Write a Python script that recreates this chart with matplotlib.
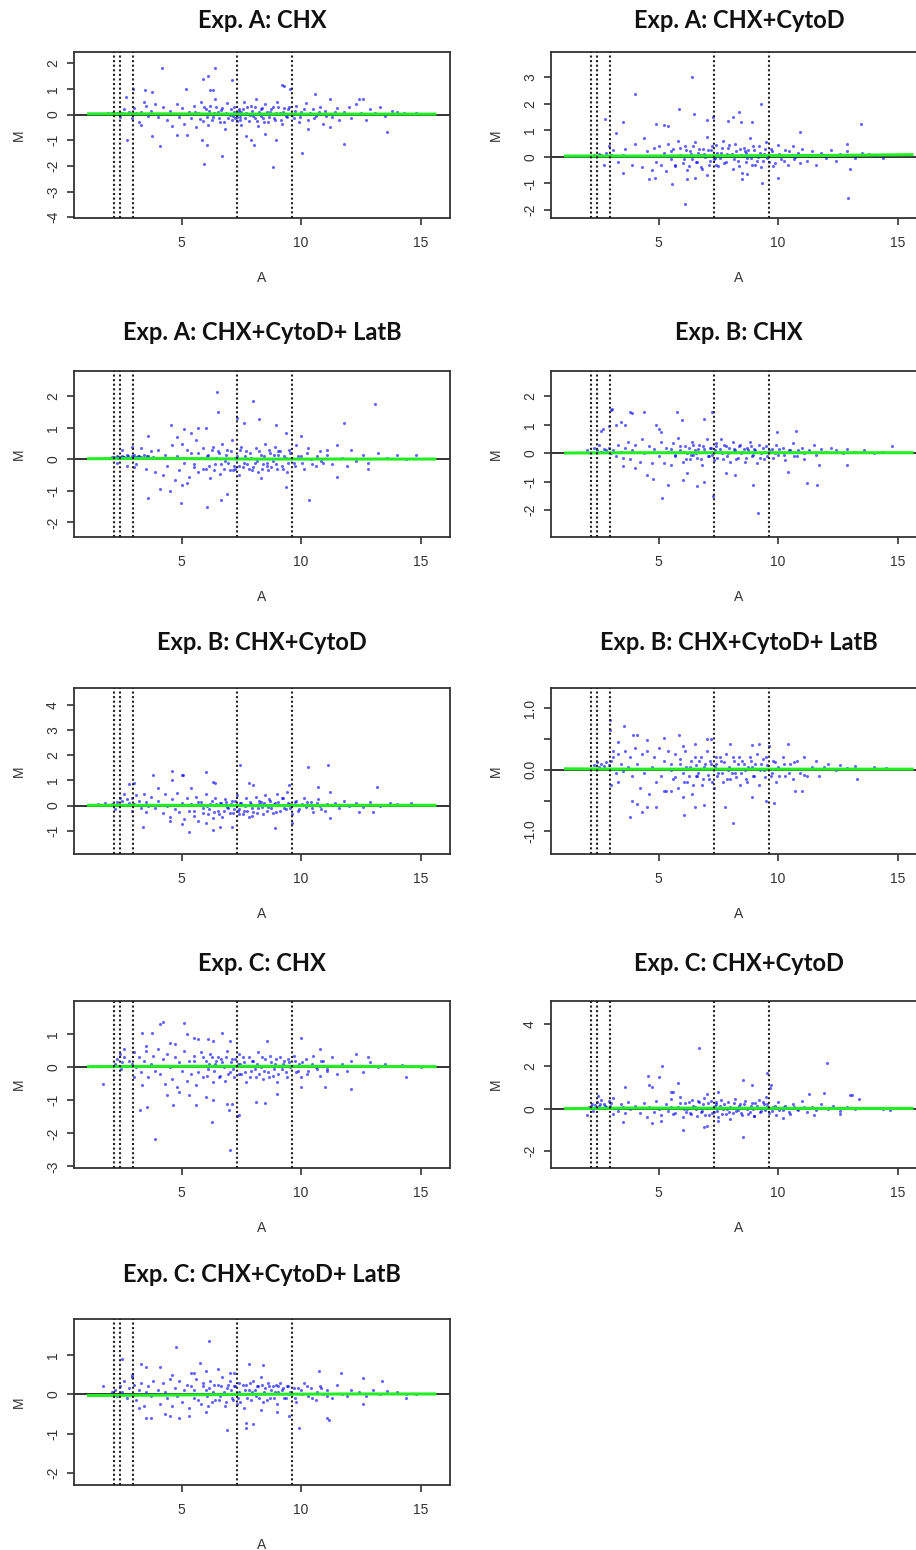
import matplotlib
matplotlib.use("Agg")
import matplotlib.pyplot as plt

# panel titles, left/right column, top to bottom
titles = ["Exp. A: CHX", "Exp. A: CHX+CytoD", "Exp. A: CHX+CytoD+ LatB", "Exp. B: CHX",
          "Exp. B: CHX+CytoD", "Exp. B: CHX+CytoD+ LatB", "Exp. C: CHX", "Exp. C: CHX+CytoD",
          "Exp. C: CHX+CytoD+ LatB"]

ylims = [(-4.03, 2.44), (-2.3, 3.94), (-2.46, 2.8), (-2.94, 2.89), (-1.92, 4.66),
         (-1.37, 1.33), (-3.05, 2.01), (-2.81, 5.1), (-2.31, 1.92)]
yticks = [[-4, -3, -2, -1, 0, 1, 2], [-2, -1, 0, 1, 2, 3], [-2, -1, 0, 1, 2], [-2, -1, 0, 1, 2],
          [-1, 0, 1, 2, 3, 4], [-1.0, -0.5, 0.0, 0.5, 1.0], [-3, -2, -1, 0, 1], [-2, 0, 2, 4],
          [-2, -1, 0, 1]]
ylabels6 = ["-1.0", "", "0.0", "", "1.0"]
xticks = [5, 10, 15]

# intensity cut points (dotted lines)
cuts = [2.18, 2.42, 2.95, 7.3, 9.63]

# loess fit (green)
loess_A = [1.1, 4.0, 8.0, 12.0, 15.6]
loess_M = [[0.03, 0.03, 0.02, 0.02, 0.02], [0.03, 0.03, 0.04, 0.05, 0.08],
           [0.02, 0.03, 0.01, 0.01, 0.01], [0.01, 0.02, 0.02, 0.02, 0.02],
           [0.01, 0.01, 0.0, 0.01, 0.01], [0.015, 0.01, 0.01, 0.01, 0.01],
           [0.02, 0.03, 0.03, 0.03, 0.02], [0.0, 0.03, 0.02, 0.01, 0.01],
           [-0.03, -0.02, 0.0, 0.01, 0.01]]

# (A, M) points
pts_a_chx = [(1.3,0.03),(1.6,0.04),(1.9,0.05),(2.1,0.05),(2.3,0.07),(2.5,0.06),(2.6,0.2),(2.8,0.1),(3.0,0.25),(3.1,0.05),
    (3.2,-0.3),(3.3,0.1),(3.5,0.35),(3.6,-0.05),(3.7,0.15),(3.9,0.4),(2.4,-0.1),(2.9,-0.15),(3.4,0.5),(4.0,-0.1),(2.67,0.7),(3.3,-0.4),
    (4.2,0.3),(4.4,-0.2),(4.5,0.15),(4.6,-0.45),(4.8,0.4),(4.9,-0.1),(5.0,0.25),(5.1,-0.35),(5.3,0.1),(5.4,-0.15),(5.5,0.35),(5.6,-0.5),
    (5.7,0.05),(5.8,0.5),(5.9,-0.25),(6.0,0.2),(6.1,-0.4),(6.2,0.35),(6.3,-0.1),(6.4,0.6),(6.5,0.1),(6.6,-0.3),(6.7,0.25),(6.8,-0.55),
    (6.9,0.45),(7.0,0.0),(7.1,-0.2),(7.2,0.3),(7.3,-0.1),(7.4,0.15),(7.5,-0.4),(7.6,0.5),(7.7,0.05),(7.8,-0.25),(7.9,0.35),(8.0,-0.05),
    (8.1,0.6),(8.2,-0.45),(8.3,0.2),(8.4,-0.15),(8.5,0.4),(8.6,-0.3),(8.7,0.1),(8.8,0.3),(8.9,-0.2),(9.0,0.5),(9.1,0.05),(9.2,-0.35),
    (9.3,0.25),(9.4,-0.1),(9.5,0.3),(7.25,-0.15),(7.35,0.05),(7.45,-0.2),(8.05,-0.15),(8.25,0.1),(6.95,-0.15),(7.55,0.2),
    (9.7,-0.15),(9.8,0.35),(9.9,-0.3),(10.0,0.1),(10.2,0.45),(10.3,-0.2),(10.5,0.2),(10.6,-0.05),(10.8,0.3),(10.9,-0.35),(11.0,0.15),
    (11.2,0.6),(11.3,-0.1),(11.5,0.25),(11.6,-0.2),(11.8,0.1),(12.0,0.3),(12.1,-0.15),(12.3,0.4),(12.5,0.05),(12.7,-0.2),(12.9,0.2),
    (13.1,0.05),(13.3,0.3),(13.5,-0.05),(13.8,0.15),(14.0,0.1),(14.3,0.05),(14.8,0.05),(12.6,0.6),
    (4.16,1.83),(6.39,1.83),(5.9,1.4),(6.12,1.51),(7.09,1.35),(9.2,1.15),(9.3,1.1),(9.53,1.0),(6.2,0.95),(6.3,0.95),(5.18,1.0),
    (3.47,0.95),(2.98,1.0),(3.74,0.9),(10.58,0.82),(12.4,0.6),(4.09,-1.21),(5.93,-1.94),(6.67,-1.6),(8.81,-2.04),(10.02,-1.49),
    (11.79,-1.13),(13.58,-0.69),(8.03,-1.2),(7.9,-1.0),(6.07,-1.17),(5.84,-1.0),(2.7,-1.0),(3.74,-0.85),(8.93,-1.0),(4.8,-0.8),
    (5.2,-0.8),(7.7,-0.85),(8.5,-0.75),(10.3,-0.55),(11.2,-0.5)]
dense_a_chx = [(5.55,0.12),(5.75,-0.18),(5.95,0.28),(6.05,-0.08),(6.15,0.15),(6.25,-0.22),(6.35,0.05),(6.45,0.3),(6.55,-0.12),
    (6.65,0.18),(6.75,-0.3),(6.85,0.08),(7.05,0.22),(7.15,-0.05),(7.2,0.12),(7.3,-0.25),(7.38,0.2),(7.42,-0.08),(7.5,0.1),(7.65,-0.12),
    (7.75,0.28),(7.85,-0.02),(7.95,0.15),(8.05,0.3),(8.15,-0.25),(8.3,-0.05),(8.35,0.25),(8.45,-0.3),(8.55,0.12),(8.65,-0.08),(8.75,0.2),
    (8.85,-0.15),(8.95,0.05),(9.05,0.28),(9.15,-0.2),(9.25,0.1),(9.35,-0.05),(9.45,0.2),(9.6,0.0),(9.75,0.15),(9.95,-0.1),(10.1,0.2),
    (10.35,0.05),(10.55,-0.15),(10.75,0.1),(11.05,-0.05),(11.4,0.1)]

pts_a_cytod = [(1.2,0.03),(1.5,0.03),(1.8,0.04),(2.1,0.04),(2.3,0.06),(2.5,0.1),(2.6,0.05),(2.8,0.15),(3.0,0.08),(3.2,0.02),
    (3.5,0.05),(3.8,0.04),(4.2,0.03),(4.6,0.04),(5.0,0.03),(5.4,0.04),(2.7,-0.3),(2.9,0.4),(3.1,0.25),(3.3,-0.2),(3.6,0.3),(3.9,-0.3),
    (4.0,0.5),(4.3,-0.4),(4.4,0.7),(4.5,0.2),(4.7,-0.5),(4.8,0.35),(4.9,-0.2),
    (5.0,0.4),(5.1,-0.3),(5.2,0.15),(5.3,-0.55),(5.4,0.5),(5.5,-0.1),(5.6,0.3),(5.7,-0.35),(5.8,0.6),(5.9,0.05),(6.0,-0.25),(6.1,0.4),
    (6.2,-0.5),(6.3,0.2),(6.4,-0.1),(6.5,0.55),(6.6,-0.2),(6.7,0.3),(6.8,-0.45),(6.9,0.1),(7.0,0.75),(7.1,-0.3),(7.2,0.25),(7.3,-0.1),
    (7.4,0.45),(7.5,-0.35),(7.6,0.15),(7.7,0.6),(7.8,-0.2),(7.9,0.35),(8.0,0.05),(8.1,-0.45),(8.2,0.5),(8.3,-0.15),(8.4,0.3),(8.5,-0.6),
    (8.6,0.2),(8.7,-0.05),(8.8,0.7),(8.9,-0.3),(9.0,0.25),(9.1,-0.15),(9.2,0.4),(9.3,-0.4),(9.4,0.1),(9.5,0.55),(9.6,-0.2),(9.7,0.3),
    (9.8,-0.35),(9.9,0.05),(10.0,0.45),(10.1,-0.1),(10.3,0.25),(10.4,-0.3),(10.6,0.4),(10.7,0.0),(10.9,-0.25),(11.0,0.3),(11.2,-0.15),
    (11.4,0.2),(11.6,-0.3),(11.8,0.15),(12.0,-0.05),(12.2,0.25),(12.4,-0.15),(12.6,0.1),(12.9,0.2),(13.2,-0.05),(13.5,0.15),(13.8,0.1),
    (14.1,0.05),(14.4,-0.05),(8.05,0.1),(7.35,-0.05),(6.75,0.05),(8.65,0.15),(9.15,0.0),
    (6.38,3.0),(4.01,2.37),(5.86,1.79),(6.49,1.6),(9.28,1.97),(8.38,1.7),(7.29,1.5),(7.0,1.4),(7.9,1.35),(8.1,1.5),(8.9,1.3),
    (8.44,1.31),(2.73,1.44),(3.52,1.29),(4.9,1.25),(5.2,1.2),(5.4,1.15),(13.47,1.22),(10.9,0.95),(3.2,0.9),(12.9,0.5),
    (6.1,-1.78),(12.94,-1.56),(9.31,-0.99),(5.56,-1.04),(4.6,-0.85),(4.85,-0.8),(6.2,-0.85),(6.5,-0.8),(8.5,-0.85),(8.7,-0.65),
    (10.0,-0.8),(3.5,-0.6),(7.0,-0.7),(13.0,-0.45)]
dense_a_cytod = [(5.5,0.2),(5.7,-0.3),(5.9,0.35),(6.05,-0.1),(6.15,0.25),(6.25,-0.35),(6.35,0.1),(6.45,0.4),(6.55,-0.2),(6.65,0.15),
    (6.75,-0.4),(6.85,0.3),(6.95,0.0),(7.05,0.25),(7.15,-0.15),(7.25,0.4),(7.38,-0.3),(7.45,0.15),(7.55,-0.05),(7.65,0.35),(7.75,-0.25),
    (7.85,0.1),(7.95,0.45),(8.15,-0.1),(8.25,0.2),(8.35,-0.35),(8.45,0.05),(8.55,0.35),(8.65,-0.2),(8.75,0.25),(8.85,-0.05),(8.95,0.4),
    (9.05,-0.3),(9.25,0.15),(9.35,-0.15),(9.45,0.3),(9.55,-0.05),(9.75,0.2),(9.85,-0.25),(10.05,0.1),(10.25,-0.15),(10.45,0.2),
    (10.65,-0.1),(10.85,0.15),(11.1,0.05)]

pts_a_latb = [(1.8,0.03),(2.0,0.05),(2.1,0.08),(2.2,0.04),(2.3,0.1),(2.4,0.06),(2.5,0.12),(2.6,0.08),(2.7,0.15),(2.8,0.05),
    (2.9,0.1),(3.0,0.14),(3.1,0.06),(3.2,0.12),(3.3,0.08),(3.4,0.15),(3.5,0.05),(3.6,0.1),(3.7,0.03),(3.8,0.08),(2.5,0.3),(2.7,-0.2),
    (2.9,0.4),(3.1,-0.15),(3.3,0.35),(3.5,-0.3),(3.7,0.25),(3.9,-0.4),(2.3,-0.1),(3.0,-0.25),
    (4.0,0.3),(4.2,-0.5),(4.3,0.15),(4.4,-0.2),(4.6,0.45),(4.7,-0.65),(4.8,0.1),(4.9,-0.35),(5.0,0.5),(5.1,-0.1),(5.2,0.3),(5.3,-0.55),
    (5.4,0.2),(5.5,-0.25),(5.6,0.6),(5.7,-0.4),(5.8,0.05),(5.9,0.35),(6.0,-0.3),(6.1,0.15),(6.2,-0.6),(6.3,0.4),(6.4,-0.15),(6.5,0.25),
    (6.6,-0.45),(6.7,0.5),(6.8,-0.05),(6.9,0.3),(7.0,-0.35),(7.1,0.6),(7.2,-0.2),(7.3,0.1),(7.4,-0.5),(7.5,0.4),(7.6,-0.1),(7.7,0.25),
    (7.8,-0.3),(7.9,0.05),(8.0,-0.25),(8.1,0.35),(8.2,-0.4),(8.3,0.15),(8.4,-0.15),(8.5,0.5),(8.6,-0.35),(8.7,0.2),(8.8,-0.05),(8.9,0.4),
    (9.0,-0.3),(9.1,0.25),(9.2,-0.2),(9.3,0.1),(9.4,-0.4),(9.5,0.3),(9.7,-0.1),(9.8,0.45),(10.0,0.1),(10.1,-0.3),(10.3,0.35),(10.4,0.0),
    (10.6,-0.2),(10.8,0.25),(10.9,-0.1),(11.1,0.3),(11.3,-0.15),(11.5,0.45),(11.7,0.05),(11.9,-0.2),(12.1,0.3),(12.3,-0.05),(12.6,0.15),
    (12.8,-0.1),(13.2,0.2),(13.6,0.05),(14.0,0.15),(14.4,0.0),(14.8,0.15),(7.25,-0.3),(8.05,-0.1),(8.55,-0.2),(9.05,0.15),
    (6.49,2.13),(6.5,1.5),(7.97,1.86),(13.09,1.77),(7.33,1.32),(7.6,1.15),(8.25,1.27),(8.95,1.1),(11.8,1.15),(4.55,1.1),(5.1,0.95),
    (5.4,0.85),(5.7,1.0),(6.0,1.0),(9.35,0.85),(10.0,0.75),(3.6,0.75),(4.8,0.7),(6.07,-1.51),(10.34,-1.29),(6.63,-1.28),(6.9,-1.1),
    (4.97,-1.37),(3.58,-1.24),(4.51,-1.01),(4.1,-0.95),(5.0,-0.8),(5.2,-0.75),(9.37,-0.87),(8.3,-0.6),(11.5,-0.55),(12.8,-0.3)]
dense_a_latb = [(5.5,-0.15),(5.7,0.2),(5.9,-0.3),(6.05,0.1),(6.15,-0.2),(6.25,0.3),(6.35,-0.35),(6.45,0.05),(6.55,0.2),(6.65,-0.15),
    (6.75,-0.3),(6.85,0.15),(6.95,-0.1),(7.05,0.25),(7.15,-0.35),(7.25,0.05),(7.38,-0.2),(7.45,0.3),(7.55,-0.25),(7.65,0.1),(7.75,-0.15),
    (7.85,0.2),(7.95,-0.35),(8.15,-0.05),(8.25,0.25),(8.35,-0.3),(8.45,0.1),(8.55,-0.1),(8.65,0.3),(8.75,-0.25),(8.85,0.15),(8.95,-0.15),
    (9.05,0.25),(9.25,-0.3),(9.35,0.05),(9.45,-0.1),(9.55,0.2),(9.75,-0.2),(9.85,0.1),(10.05,-0.1),(10.25,0.2),(10.45,-0.15),
    (10.65,0.1),(10.85,-0.05),(11.1,0.15),(2.15,0.06),(2.35,0.09),(2.55,0.07),(2.75,0.1),(2.95,0.06),(3.15,0.11),(3.35,0.05),(3.55,0.12)]

pts_b_chx = [(2.0,0.12),(2.3,0.2),(2.4,0.1),(2.5,0.3),(2.6,0.05),(2.7,0.15),(2.8,0.1),(2.9,0.2),(3.0,0.0),(3.1,0.1),(3.2,-0.1),
    (3.3,0.3),(3.4,0.05),(3.5,-0.15),(3.6,0.2),(3.7,0.4),(3.8,-0.2),(3.9,0.1),(4.0,0.3),(4.2,-0.3),(4.3,0.5),(4.4,0.0),(4.6,0.25),
    (4.7,-0.35),(4.8,0.15),
    (5.0,-0.1),(5.1,0.4),(5.2,-0.35),(5.3,0.2),(5.4,0.05),(5.5,-0.4),(5.6,0.35),(5.7,-0.05),(5.8,0.55),(5.9,0.1),(6.0,-0.3),(6.1,0.25),
    (6.2,0.0),(6.3,-0.2),(6.4,0.4),(6.5,0.1),(6.6,-0.15),(6.7,0.3),(6.8,-0.4),(6.9,0.15),(7.0,0.5),(7.1,-0.1),(7.2,0.2),(7.3,-0.25),
    (7.4,0.35),(7.5,0.05),(7.6,0.5),(7.7,-0.2),(7.8,0.25),(7.9,0.0),(8.0,-0.3),(8.1,0.4),(8.2,0.1),(8.3,-0.15),(8.4,0.3),(8.5,0.05),
    (8.6,-0.3),(8.7,0.2),(8.8,0.4),(8.9,-0.1),(9.0,0.15),(9.1,-0.35),(9.2,0.3),(9.3,0.0),(9.4,-0.2),(9.5,0.25),(9.7,0.05),(9.8,-0.15),
    (9.9,0.3),(10.0,-0.05),(10.2,0.2),(10.3,-0.25),(10.5,0.1),(10.6,0.35),(10.8,-0.1),(11.0,0.2),(11.1,-0.2),(11.3,0.1),(11.5,0.3),
    (11.6,-0.05),(11.8,0.15),(12.0,0.05),(12.2,0.2),(12.4,0.1),(12.7,0.0),(12.9,0.15),(13.2,0.05),(13.6,0.1),(14.0,0.02),(14.4,0.05),
    (7.35,0.1),(6.45,-0.05),(8.15,0.15),(9.6,0.1),
    (2.99,1.51),(3.05,1.55),(3.8,1.45),(3.9,1.4),(4.4,1.45),(5.75,1.45),(7.25,1.45),(5.96,1.16),(6.9,1.2),(3.4,1.1),(3.2,1.0),
    (3.6,1.0),(2.9,0.95),(2.6,0.8),(2.65,0.85),(4.9,1.0),(5.0,0.85),(5.1,0.75),(10.73,0.79),(9.95,0.75),(14.75,0.25),
    (9.17,-2.09),(5.13,-1.57),(7.29,-1.51),(5.4,-1.13),(6.6,-1.15),(6.9,-1.0),(8.96,-1.1),(11.19,-1.05),(11.61,-1.1),(6.0,-0.95),
    (4.75,-0.9),(4.5,-0.75),(6.2,-0.7),(7.8,-0.7),(8.2,-0.75),(10.4,-0.65),(11.7,-0.4),(12.9,-0.4),(3.5,-0.45),(4.0,-0.5)]
dense_b_chx = [(5.5,0.15),(5.7,-0.1),(5.9,0.25),(6.05,0.05),(6.15,-0.2),(6.25,0.2),(6.35,-0.05),(6.45,0.3),(6.55,0.0),(6.65,0.15),
    (6.75,-0.2),(6.85,0.25),(6.95,0.05),(7.05,-0.1),(7.15,0.2),(7.25,-0.05),(7.38,0.25),(7.45,-0.15),(7.55,0.15),(7.65,0.0),(7.75,0.3),
    (7.85,-0.1),(7.95,0.2),(8.15,0.05),(8.25,-0.2),(8.35,0.25),(8.45,0.0),(8.55,0.15),(8.65,-0.15),(8.75,0.1),(8.85,0.25),(8.95,-0.05),
    (9.05,0.1),(9.25,-0.15),(9.35,0.2),(9.45,0.05),(9.55,-0.1),(9.75,0.15),(9.85,0.0),(10.05,0.15),(10.25,-0.05),(10.45,0.1),
    (10.65,-0.1),(10.85,0.1),(11.1,0.0)]

pts_b_cytod = [(1.5,0.08),(1.8,0.1),(2.1,0.05),(2.3,0.15),(2.4,0.3),(2.5,0.2),(2.6,0.45),(2.7,0.25),(2.8,0.1),(2.9,0.3),(3.0,0.05),
    (3.1,0.4),(3.2,0.2),(3.3,-0.1),(3.4,0.45),(3.5,0.15),(3.6,0.0),(3.7,0.35),(3.9,-0.1),(4.0,0.2),(2.2,-0.15),(2.9,-0.2),(3.5,-0.25),
    (4.2,-0.3),(4.3,0.45),(4.4,0.0),(4.5,-0.45),(4.6,0.25),(4.7,-0.15),(4.8,0.5),(4.9,-0.25),(5.0,0.1),(5.1,-0.55),(5.2,0.3),(5.3,-0.2),
    (5.4,0.05),(5.5,-0.4),(5.6,0.35),(5.7,-0.6),(5.8,0.15),(5.9,-0.1),(6.0,0.45),(6.1,-0.35),(6.2,0.05),(6.3,-0.5),(6.4,0.3),(6.5,-0.2),
    (6.6,0.1),(6.7,-0.45),(6.8,0.25),(6.9,-0.05),(7.0,-0.3),(7.1,0.2),(7.2,-0.15),(7.3,0.4),(7.4,-0.35),(7.5,0.1),(7.6,-0.2),(7.7,0.3),
    (7.8,-0.45),(7.9,0.05),(8.0,-0.25),(8.1,0.35),(8.2,-0.1),(8.3,0.15),(8.4,-0.35),(8.5,0.4),(8.6,-0.05),(8.7,0.2),(8.8,-0.3),(8.9,0.1),
    (9.0,0.45),(9.1,-0.2),(9.2,0.3),(9.3,-0.1),(9.4,0.55),(9.5,0.05),(9.6,-0.35),(9.8,0.2),(9.9,-0.15),(10.1,0.3),(10.2,-0.05),
    (10.4,0.15),(10.5,-0.25),(10.7,0.25),(10.8,0.0),(11.0,-0.2),(11.2,0.55),(11.4,0.1),(11.6,-0.1),(11.8,0.2),(12.0,0.0),(12.3,0.1),
    (12.6,-0.05),(12.9,0.15),(13.3,0.0),(13.7,0.1),(14.0,0.05),(14.6,0.1),(7.35,-0.2),(7.95,-0.4),(8.25,0.05),
    (7.44,1.59),(10.3,1.54),(11.11,1.6),(4.61,1.37),(6.0,1.32),(3.81,1.21),(5.0,1.2),(5.07,1.2),(4.6,1.0),(6.3,0.95),(6.4,0.9),
    (7.8,0.9),(8.0,0.8),(9.5,0.8),(10.7,0.75),(13.19,0.72),(2.8,0.85),(3.0,0.9),(5.4,0.7),(4.0,0.7),
    (5.32,-1.03),(3.37,-0.83),(6.3,-0.95),(6.6,-0.85),(7.1,-0.85),(8.9,-0.87),(9.6,-0.7),(5.0,-0.75),(6.0,-0.7),(4.5,-0.6),
    (11.2,-0.5),(13.0,-0.25),(12.4,-0.25)]
dense_b_cytod = [(5.5,-0.2),(5.7,0.15),(5.9,-0.3),(6.05,0.0),(6.15,-0.15),(6.25,0.2),(6.35,-0.25),(6.45,0.05),(6.55,-0.35),(6.65,0.1),
    (6.75,-0.2),(6.85,0.15),(6.95,-0.1),(7.05,0.05),(7.15,-0.3),(7.25,0.2),(7.38,-0.15),(7.45,0.1),(7.55,-0.35),(7.65,0.0),(7.75,-0.2),
    (7.85,0.15),(7.95,-0.1),(8.15,-0.3),(8.25,0.2),(8.35,-0.05),(8.45,0.1),(8.55,-0.2),(8.65,0.25),(8.75,-0.1),(8.85,0.05),(8.95,-0.25),
    (9.05,0.15),(9.25,0.3),(9.35,-0.15),(9.45,0.1),(9.55,-0.1),(9.75,0.15),(9.85,-0.2),(10.05,0.05),(10.25,0.15),(10.45,-0.1),
    (10.65,0.1),(10.85,-0.15),(11.1,0.05)]

pts_b_latb = [(2.3,0.08),(2.4,0.12),(2.5,0.05),(2.6,0.1),(2.7,0.06),(2.8,0.12),(2.9,0.08),(3.0,0.15),(3.1,0.2),(3.2,-0.05),
    (3.3,0.25),(3.4,0.1),(3.5,-0.02),(3.6,0.3),(3.7,0.05),(3.8,0.2),(3.9,-0.1),(4.0,0.35),(3.0,-0.25),(2.95,0.65),(3.3,-0.2),
    (4.1,0.1),(4.2,-0.3),(4.3,0.25),(4.4,-0.05),(4.5,0.3),(4.6,-0.4),(4.7,0.05),(4.8,0.2),(4.9,-0.2),(5.0,0.35),(5.1,-0.1),(5.2,0.15),
    (5.3,-0.35),(5.4,0.3),(5.5,0.0),(5.6,-0.15),(5.7,0.25),(5.8,-0.3),(5.9,0.1),(6.0,-0.05),(6.1,0.3),(6.2,-0.2),(6.3,0.05),(6.4,-0.4),
    (6.5,0.2),(6.6,-0.1),(6.7,0.15),(6.8,-0.25),(6.9,0.05),(7.0,0.3),(7.1,-0.15),(7.2,0.1),(7.3,-0.3),(7.4,0.2),(7.5,-0.05),(7.6,0.15),
    (7.7,-0.2),(7.8,0.25),(7.9,0.0),(8.0,-0.15),(8.1,0.2),(8.2,-0.05),(8.3,0.1),(8.4,-0.25),(8.5,0.15),(8.6,0.0),(8.7,-0.2),(8.8,0.2),
    (8.9,0.05),(9.0,-0.1),(9.1,0.25),(9.2,-0.25),(9.3,0.1),(9.4,0.0),(9.5,0.2),(9.7,-0.1),(9.8,0.15),(9.9,-0.2),(10.0,0.05),(10.2,0.2),
    (10.3,-0.1),(10.5,0.1),(10.6,-0.15),(10.8,0.15),(10.9,-0.05),(11.1,0.2),(11.2,-0.1),(11.4,0.05),(11.6,0.15),(11.7,-0.1),(11.9,0.05),
    (12.1,0.1),(12.4,0.0),(12.6,0.08),(12.9,0.03),(13.2,0.06),(13.6,0.02),(14.0,0.05),(14.5,0.03),(15.0,0.02),(7.35,0.05),(8.05,-0.05),
    (6.55,-0.1),
    (2.96,0.81),(3.56,0.71),(3.94,0.57),(4.1,0.57),(5.86,0.57),(5.22,0.51),(7.01,0.5),(7.2,0.5),(4.5,0.48),(10.43,0.42),(8.0,0.42),
    (8.9,0.4),(9.2,0.42),(6.5,0.42),(6.0,0.38),(3.3,0.45),(3.1,0.3),(9.6,0.38),
    (3.8,-0.77),(8.1,-0.87),(6.06,-0.74),(4.3,-0.68),(4.5,-0.6),(4.9,-0.6),(3.9,-0.5),(4.1,-0.55),(7.78,-0.6),(6.5,-0.6),(6.9,-0.58),
    (9.5,-0.5),(9.83,-0.54),(8.9,-0.45),(11.0,-0.35),(10.7,-0.35),(13.3,-0.15),(5.2,-0.35),(5.5,-0.35),(6.0,-0.45)]
dense_b_latb = [(5.5,0.1),(5.7,-0.12),(5.9,0.18),(6.05,-0.2),(6.15,0.05),(6.25,-0.1),(6.35,0.15),(6.45,-0.25),(6.55,0.08),(6.65,-0.05),
    (6.75,0.2),(6.85,-0.15),(6.95,0.1),(7.05,-0.08),(7.15,0.15),(7.25,-0.2),(7.38,0.1),(7.45,-0.1),(7.55,0.2),(7.65,-0.05),(7.75,0.12),
    (7.85,-0.15),(7.95,0.05),(8.15,0.15),(8.25,-0.12),(8.35,0.2),(8.45,-0.05),(8.55,0.1),(8.65,-0.15),(8.75,0.05),(8.85,0.15),
    (8.95,-0.1),(9.05,0.1),(9.25,0.0),(9.35,0.18),(9.45,-0.12),(9.55,0.08),(9.75,-0.05),(9.85,0.12),(10.05,-0.1),(10.25,0.1),
    (10.45,-0.05),(10.65,0.12),(10.85,0.02),(11.1,-0.08)]

pts_c_chx = [(1.3,0.03),(1.6,0.04),(2.0,0.05),(2.2,0.1),(2.3,0.25),(2.4,0.4),(2.5,0.15),(2.6,0.3),(2.7,0.05),(2.8,0.2),(2.9,0.1),
    (3.0,0.45),(3.1,0.0),(3.2,0.3),(3.3,-0.15),(3.4,0.2),(3.5,0.5),(3.6,-0.3),(3.7,0.1),(3.8,0.35),(3.9,-0.1),(2.45,-0.05),(3.0,-0.3),
    (3.35,-0.55),
    (4.0,0.55),(4.1,-0.2),(4.2,0.25),(4.3,-0.5),(4.4,0.4),(4.5,0.0),(4.6,-0.35),(4.7,0.3),(4.8,-0.6),(4.9,0.15),(5.0,-0.1),(5.1,0.5),
    (5.2,-0.4),(5.3,0.2),(5.4,-0.2),(5.5,0.35),(5.6,-0.55),(5.7,0.05),(5.8,0.45),(5.9,-0.3),(6.0,0.2),(6.1,-0.05),(6.2,0.4),(6.3,-0.45),
    (6.4,0.1),(6.5,0.3),(6.6,-0.25),(6.7,0.15),(6.8,-0.4),(6.9,0.5),(7.0,-0.15),(7.1,0.25),(7.2,-0.3),(7.3,0.05),(7.4,0.4),(7.5,-0.2),
    (7.6,0.15),(7.7,-0.45),(7.8,0.3),(7.9,-0.1),(8.0,0.2),(8.1,-0.3),(8.2,0.45),(8.3,0.0),(8.4,-0.35),(8.5,0.25),(8.6,-0.15),(8.7,0.35),
    (8.8,-0.25),(8.9,0.1),(9.0,-0.45),(9.1,0.3),(9.2,-0.05),(9.3,0.2),(9.4,-0.3),(9.5,0.15),(9.7,0.35),(9.8,-0.15),(9.9,0.1),(10.0,-0.3),
    (10.2,0.25),(10.3,-0.1),(10.5,0.35),(10.6,0.0),(10.8,-0.25),(10.9,0.2),(11.1,-0.05),(11.3,0.3),(11.5,-0.2),(11.7,0.1),(11.9,-0.1),
    (12.1,0.2),(12.4,0.05),(12.6,-0.15),(12.9,0.15),(13.2,0.0),(13.5,0.1),(13.9,0.05),(14.2,0.08),(14.6,0.03),(15.0,0.02),(7.35,0.1),
    (8.05,-0.05),(6.75,0.05),
    (4.23,1.38),(4.1,1.3),(5.11,1.33),(3.33,1.05),(3.74,1.05),(6.67,1.05),(10.0,0.88),(8.56,0.8),(5.2,1.0),(5.5,0.9),(5.7,0.85),
    (6.1,0.85),(6.3,0.8),(7.0,0.8),(4.5,0.75),(4.7,0.7),(3.5,0.65),(2.6,0.55),(10.8,0.55),(12.3,0.4),(12.8,0.3),
    (3.86,-2.16),(7.02,-2.49),(6.28,-1.65),(7.33,-1.48),(7.4,-1.45),(3.26,-1.28),(3.54,-1.19),(4.65,-1.14),(5.6,-1.15),(6.9,-1.1),
    (7.1,-1.1),(6.99,-1.3),(8.1,-1.05),(8.49,-1.07),(6.0,-0.9),(5.3,-0.85),(4.4,-0.85),(4.9,-0.75),(6.3,-1.0),(9.0,-0.8),(10.0,-0.6),
    (12.1,-0.65),(11.0,-0.6),(14.4,-0.3),(1.72,-0.49)]
dense_c_chx = [(5.5,0.2),(5.7,-0.15),(5.9,0.3),(6.05,-0.25),(6.15,0.1),(6.25,0.3),(6.35,-0.1),(6.45,0.2),(6.55,-0.3),(6.65,0.25),
    (6.75,0.0),(6.85,0.3),(6.95,-0.2),(7.05,0.15),(7.15,-0.05),(7.25,0.25),(7.38,-0.2),(7.45,0.1),(7.55,0.3),(7.65,-0.15),(7.75,0.05),
    (7.85,-0.3),(7.95,0.2),(8.15,0.1),(8.25,-0.2),(8.35,0.3),(8.45,-0.1),(8.55,0.05),(8.65,-0.3),(8.75,0.15),(8.85,-0.05),(8.95,0.25),
    (9.05,-0.2),(9.25,0.1),(9.35,-0.15),(9.45,0.25),(9.55,0.0),(9.75,0.2),(9.85,-0.1),(10.05,0.15),(10.25,-0.2),(10.45,0.1),
    (10.65,-0.05),(10.85,0.2),(11.1,-0.1)]

pts_c_cytod = [(1.9,0.05),(2.0,-0.3),(2.1,0.1),(2.2,0.2),(2.3,0.05),(2.4,0.3),(2.5,0.15),(2.6,0.4),(2.7,0.2),(2.8,0.1),(2.9,0.35),
    (3.0,0.25),(3.1,0.5),(3.2,0.05),(3.3,-0.1),(3.4,0.2),(3.5,0.1),(3.6,-0.2),(3.7,0.3),(3.8,0.0),(4.0,0.15),(2.45,0.6),(2.25,-0.1),
    (3.1,-0.25),
    (4.2,-0.2),(4.4,0.25),(4.5,-0.4),(4.6,0.1),(4.8,-0.15),(4.9,0.35),(5.0,0.0),(5.1,-0.3),(5.3,0.2),(5.4,-0.1),(5.5,0.45),(5.6,-0.25),
    (5.8,0.1),(5.9,0.55),(6.0,-0.4),(6.1,0.25),(6.2,0.0),(6.3,-0.2),(6.4,0.4),(6.5,0.1),(6.6,-0.35),(6.7,0.3),(6.8,-0.1),(6.9,0.5),
    (7.0,0.05),(7.1,-0.3),(7.2,0.35),(7.3,-0.15),(7.4,0.2),(7.5,-0.4),(7.6,0.4),(7.7,0.0),(7.8,-0.25),(7.9,0.3),(8.0,0.1),(8.1,-0.2),
    (8.2,0.45),(8.3,-0.05),(8.4,0.2),(8.5,-0.3),(8.6,0.35),(8.7,0.0),(8.8,-0.15),(8.9,0.25),(9.0,-0.35),(9.1,0.15),(9.2,0.4),(9.3,-0.1),
    (9.4,0.2),(9.5,0.55),(9.6,-0.2),(9.8,0.1),(9.9,-0.3),(10.0,0.3),(10.2,-0.05),(10.3,0.15),(10.5,-0.25),(10.6,0.2),(10.8,0.0),
    (11.0,0.35),(11.2,-0.15),(11.4,0.1),(11.6,-0.05),(11.8,0.2),(12.1,0.0),(12.3,0.15),(12.6,-0.1),(12.9,0.1),(13.2,0.0),(13.6,0.05),
    (14.0,0.02),(14.4,0.0),(14.7,-0.05),(7.35,0.15),(8.05,0.05),(9.55,0.1),
    (6.7,2.87),(5.15,2.03),(12.03,2.16),(9.52,1.68),(4.57,1.56),(5.01,1.5),(8.51,1.35),(4.6,1.1),(4.7,1.05),(5.8,1.21),(8.9,1.1),
    (9.7,1.1),(9.65,1.0),(3.59,1.05),(11.3,0.7),(11.9,0.75),(13.0,0.65),(13.1,0.65),(13.4,0.45),(5.5,0.8),(5.6,0.8),(7.0,0.7),(7.5,0.8),
    (8.54,-1.34),(6.03,-0.99),(6.9,-0.85),(7.0,-0.8),(5.1,-0.6),(4.7,-0.7),(3.5,-0.65),(7.5,-0.6),(8.0,-0.5),(9.0,-0.35),(10.2,-0.45),
    (11.5,-0.3),(12.6,-0.25)]
dense_c_cytod = [(5.5,0.1),(5.7,-0.2),(5.9,0.25),(6.05,0.0),(6.15,-0.15),(6.25,0.3),(6.35,-0.25),(6.45,0.15),(6.55,0.0),(6.65,0.35),
    (6.75,-0.15),(6.85,0.2),(6.95,-0.3),(7.05,0.25),(7.15,0.05),(7.25,-0.2),(7.38,0.3),(7.45,-0.1),(7.55,0.15),(7.65,-0.25),(7.75,0.2),
    (7.85,0.0),(7.95,-0.15),(8.15,0.25),(8.25,-0.1),(8.35,0.15),(8.45,-0.2),(8.55,0.2),(8.65,0.05),(8.75,-0.25),(8.85,0.15),(8.95,0.0),
    (9.05,0.25),(9.25,-0.15),(9.35,0.3),(9.45,-0.05),(9.55,0.2),(9.75,-0.1),(9.85,0.15),(10.05,-0.05),(10.25,0.1),(10.45,-0.15),
    (10.65,0.1),(10.85,-0.05),(11.1,0.1),(2.15,0.12),(2.35,0.18),(2.55,0.22),(2.75,0.12),(2.95,0.15)]

pts_c_latb = [(1.7,0.2),(2.1,0.05),(2.2,0.1),(2.3,-0.05),(2.4,0.2),(2.5,0.05),(2.6,0.35),(2.7,-0.1),(2.8,0.15),(2.9,0.45),(3.0,0.25),
    (3.1,-0.15),(3.2,0.1),(3.3,0.3),(3.4,-0.3),(3.5,0.05),(3.6,0.2),(3.7,-0.05),(3.8,0.35),(3.9,0.0),(2.9,0.5),(3.2,-0.35),(4.0,0.1),
    (4.1,-0.25),(4.2,0.3),(4.3,0.05),(4.4,-0.1),(4.5,0.4),(4.6,-0.3),(4.7,0.15),(4.8,-0.05),(4.9,0.35),(5.0,-0.2),(5.1,0.1),(5.2,0.25),
    (5.3,-0.35),(5.4,0.2),(5.5,-0.1),(5.6,0.4),(5.7,0.0),(5.8,-0.25),(5.9,0.3),(6.0,0.1),(6.1,-0.3),(6.2,0.35),(6.3,0.05),(6.4,-0.15),
    (6.5,0.25),(6.6,-0.05),(6.7,0.45),(6.8,-0.3),(6.9,0.15),(7.0,0.35),(7.1,-0.1),(7.2,0.2),(7.3,-0.25),(7.4,0.3),(7.5,0.0),(7.6,-0.35),
    (7.7,0.25),(7.8,0.1),(7.9,-0.15),(8.0,0.35),(8.1,-0.05),(8.2,0.2),(8.3,0.45),(8.4,-0.2),(8.5,0.15),(8.6,0.3),(8.7,-0.1),(8.8,0.2),
    (8.9,0.05),(9.0,-0.25),(9.1,0.3),(9.2,0.1),(9.3,-0.1),(9.4,0.2),(9.5,0.0),(9.7,0.15),(9.8,-0.2),(10.0,0.1),(10.1,0.3),(10.3,-0.05),
    (10.4,0.15),(10.6,-0.15),(10.8,0.2),(10.9,0.0),(11.1,0.1),(11.3,-0.1),(11.5,0.25),(11.7,0.0),(11.9,-0.05),(12.1,0.1),(12.4,0.05),
    (12.7,-0.05),(13.0,0.1),(13.3,0.0),(13.6,0.08),(14.0,0.05),(14.4,0.0),(14.8,0.02),(7.35,-0.1),(8.05,0.1),(9.05,0.2),
    (6.14,1.36),(4.76,1.21),(5.77,0.81),(3.3,0.78),(3.5,0.7),(7.83,0.78),(8.42,0.74),(10.75,0.6),(11.67,0.55),(12.6,0.42),(13.4,0.33),
    (2.49,0.91),(6.5,0.65),(7.0,0.55),(7.2,0.55),(4.1,0.7),(6.0,0.6),(5.4,0.55),(5.5,0.55),(4.6,0.5),
    (6.88,-0.9),(9.92,-0.85),(7.7,-0.85),(8.0,-0.75),(7.69,-0.72),(11.1,-0.6),(11.16,-0.65),(4.3,-0.5),(4.5,-0.55),(4.9,-0.6),
    (5.3,-0.55),(3.5,-0.6),(3.7,-0.6),(6.0,-0.45),(9.0,-0.45),(9.5,-0.55),(12.6,-0.25),(14.4,-0.1),(8.3,-0.4)]
dense_c_latb = [(5.5,0.1),(5.7,-0.15),(5.9,0.2),(6.05,-0.05),(6.15,0.15),(6.25,-0.2),(6.35,0.25),(6.45,0.0),(6.55,-0.15),(6.65,0.2),
    (6.75,0.05),(6.85,-0.2),(6.95,0.25),(7.05,0.1),(7.15,-0.15),(7.25,0.2),(7.38,0.05),(7.45,-0.2),(7.55,0.25),(7.65,0.1),(7.75,-0.1),
    (7.85,0.3),(7.95,0.05),(8.15,0.2),(8.25,-0.1),(8.35,0.25),(8.45,0.05),(8.55,-0.15),(8.65,0.2),(8.75,0.1),(8.85,-0.1),(8.95,0.25),
    (9.05,0.05),(9.25,0.15),(9.35,-0.1),(9.45,0.2),(9.55,0.05),(9.75,-0.1),(9.85,0.15),(10.05,0.0),(10.25,0.2),(10.45,-0.1),
    (10.65,0.05),(10.85,0.15),(11.1,-0.05)]

points = [pts_a_chx + dense_a_chx, pts_a_cytod + dense_a_cytod, pts_a_latb + dense_a_latb,
          pts_b_chx + dense_b_chx, pts_b_cytod + dense_b_cytod, pts_b_latb + dense_b_latb,
          pts_c_chx + dense_c_chx, pts_c_cytod + dense_c_cytod, pts_c_latb + dense_c_latb]

W, H = 916, 1550
fig = plt.figure(figsize=(W / 100, H / 100), dpi=100)
fig.patch.set_facecolor("white")

col_left = [74, 551]
ax_w = 376
rows = [(52, 218), (371, 537), (688, 854), (1001, 1168), (1319, 1485)]
title_y = [20, 332, 643, 963, 1275]

for i in range(9):
    r, c = divmod(i, 2)
    top, bot = rows[r]
    x0 = col_left[c]
    ax = fig.add_axes([x0 / W, 1 - bot / H, ax_w / W, (bot - top) / H])

    A = [p[0] for p in points[i]]
    M = [p[1] for p in points[i]]
    ax.axhline(0, color="#333333", lw=1.4, zorder=1)
    ax.scatter(A, M, s=5, color="#0000ff", alpha=0.6, linewidths=0, zorder=2)
    ax.plot(loess_A, loess_M[i], color="#22ee22", lw=2.2, zorder=3)
    for cx in cuts:
        ax.axvline(cx, color="#222222", lw=1.5, ls=(0, (1, 1.2)), zorder=4)

    ax.set_xlim(0.49, 16.23)
    ax.set_ylim(*ylims[i])
    ax.set_xticks(xticks)
    ax.set_yticks(yticks[i])
    if i == 5:
        ax.set_yticklabels(ylabels6)
    else:
        ax.set_yticklabels([str(t) for t in yticks[i]])
    ax.tick_params(direction="out", length=5, width=1.2, color="#333333",
                   labelsize=10, labelcolor="#333333")
    ax.tick_params(axis="x", pad=8)
    ax.tick_params(axis="y", pad=5, labelrotation=90)
    for lab in ax.get_yticklabels():
        lab.set_va("center")
        lab.set_family("Liberation Sans")
    for lab in ax.get_xticklabels():
        lab.set_family("Liberation Sans")
    for sp in ax.spines.values():
        sp.set_linewidth(1.3)
        sp.set_color("#333333")

    cx_mid = x0 + ax_w / 2
    fig.text(cx_mid / W, 1 - title_y[r] / H, titles[i], ha="center", va="center",
             family="Lato", weight="bold", fontsize=17, color="#111111")
    fig.text(cx_mid / W, 1 - (bot + 60) / H, "A", ha="center", va="center",
             family="Liberation Sans", fontsize=10, color="#333333")
    fig.text((x0 - 55) / W, 1 - (top + bot) / 2 / H, "M", ha="center", va="center",
             rotation=90, family="Liberation Sans", fontsize=10, color="#333333")

fig.savefig("out.png", dpi=100)
